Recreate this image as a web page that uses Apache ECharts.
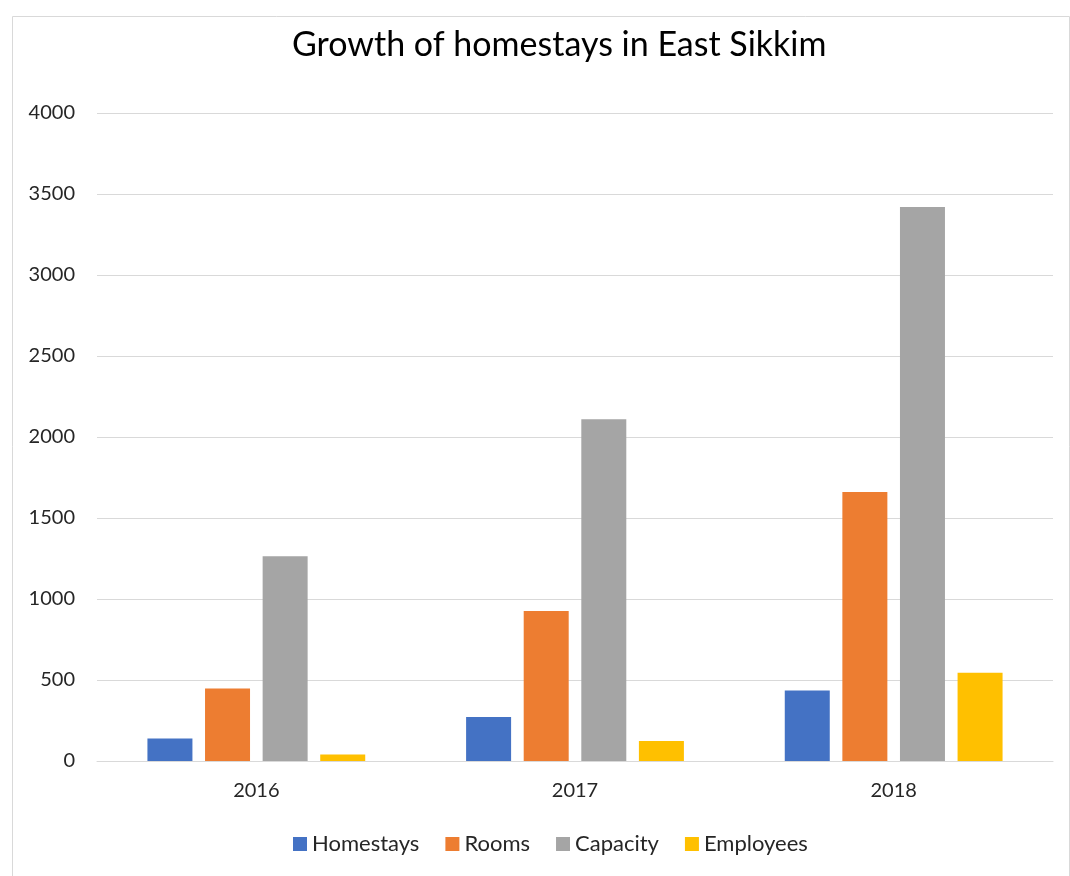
<!DOCTYPE html>
<html>
<head>
<meta charset="utf-8">
<script src="https://cdn.jsdelivr.net/npm/echarts@6/dist/echarts.min.js"></script>
<style>
  html, body { margin: 0; padding: 0; background: #fff; }
  #chart { width: 1070px; height: 876px; }
</style>
</head>
<body>
<div id="chart"></div>
<script>
const categories = ['2016', '2017', '2018'];
const homestays = [139, 272, 435];
const rooms = [447, 926, 1660];
const capacity = [1264, 2109, 3419];
const employees = [40, 123, 544];
const yTicks = { min: 0, max: 4000, interval: 500 };

const chart = echarts.init(document.getElementById('chart'));
const font = 'Lato, "Open Sans", sans-serif';
function bar(name, data, color) {
  return {
    name, type: 'bar', data,
    barWidth: 45, barGap: '28%',
    itemStyle: { color },
    emphasis: { disabled: true }
  };
}
chart.setOption({
  animation: false,
  textStyle: { fontFamily: font },
  graphic: [{
    type: 'rect', left: 10, top: 14,
    shape: { width: 1057, height: 870 },
    style: { fill: 'none', stroke: '#d9d9d9', lineWidth: 1 }
  }],
  title: {
    text: 'Growth of homestays in East Sikkim',
    left: 287, top: 23,
    textStyle: { fontFamily: font, fontSize: 34, fontWeight: 'normal', color: '#000' }
  },
  legend: {
    bottom: 16, left: 288,
    itemWidth: 14, itemHeight: 14, itemGap: 26,
    icon: 'rect',
    textStyle: { fontFamily: font, fontSize: 22, color: '#262626' },
    data: ['Homestays', 'Rooms', 'Capacity', 'Employees']
  },
  grid: { left: 97, right: 17, top: 113, bottom: 115, containLabel: false },
  xAxis: {
    type: 'category', data: categories,
    axisLine: { lineStyle: { color: '#d9d9d9', width: 1 } },
    axisTick: { show: false },
    axisLabel: { fontFamily: font, fontSize: 20, color: '#262626', margin: 20 }
  },
  yAxis: {
    type: 'value', min: yTicks.min, max: yTicks.max, interval: yTicks.interval,
    axisLine: { show: false },
    axisTick: { show: false },
    splitLine: { lineStyle: { color: '#d9d9d9', width: 1 } },
    axisLabel: { fontFamily: font, fontSize: 20, color: '#262626', margin: 22, formatter: v => String(v) }
  },
  series: [
    bar('Homestays', homestays, '#4472C4'),
    bar('Rooms', rooms, '#ED7D31'),
    bar('Capacity', capacity, '#A5A5A5'),
    bar('Employees', employees, '#FFC000')
  ]
});
</script>
</body>
</html>
